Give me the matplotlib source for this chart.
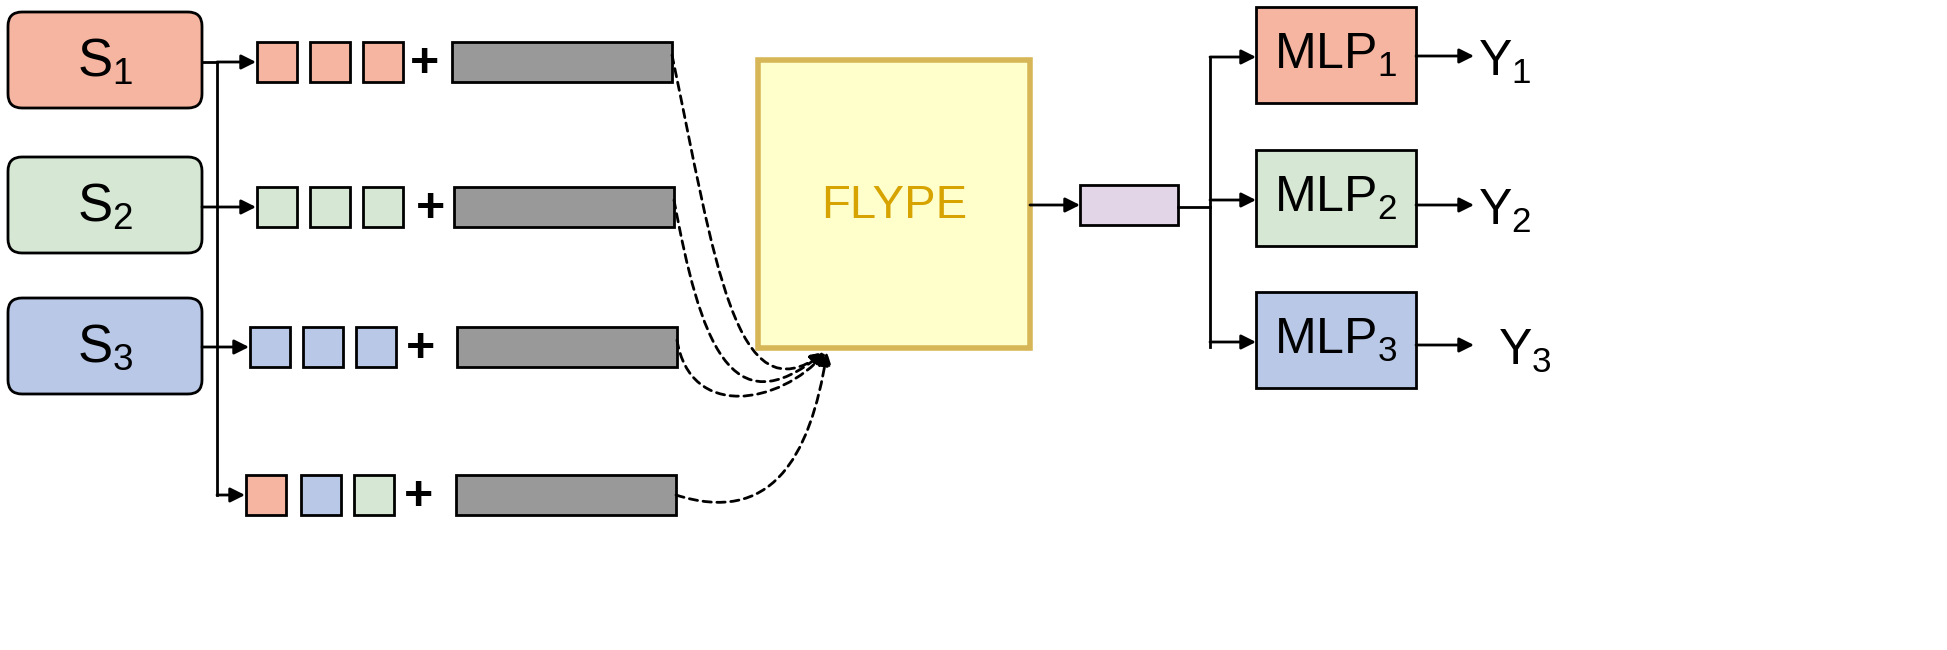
import matplotlib.pyplot as plt
from matplotlib.patches import Rectangle, FancyBboxPatch, FancyArrowPatch
from matplotlib.path import Path

plt.rcParams['font.family'] = ['Liberation Sans', 'DejaVu Sans']
plt.rcParams['mathtext.fontset'] = 'custom'
plt.rcParams['mathtext.rm'] = 'Liberation Sans'
plt.rcParams['mathtext.it'] = 'Liberation Sans'

salmon, green, blue = '#F5B5A0', '#D6E8D4', '#B8C8E6'
gray, purple = '#999999', '#E1D5E7'

source_labels = ['S$_1$', 'S$_2$', 'S$_3$']
source_colors = [salmon, green, blue]
source_tops = [12, 157, 298]

row_ys = [62, 207, 347, 495]
row_square_x = [[257, 310, 363], [257, 310, 363], [250, 303, 356], [246, 301, 354]]
row_square_colors = [[salmon] * 3, [green] * 3, [blue] * 3, [salmon, blue, green]]
row_plus_x = [425, 430, 420, 418]
row_bar_x = [452, 454, 457, 456]

head_labels = ['MLP$_1$', 'MLP$_2$', 'MLP$_3$']
head_tops = [7, 150, 292]
out_labels = ['Y$_1$', 'Y$_2$', 'Y$_3$']
out_ys = [56, 205, 345]
out_x = [1478, 1478, 1498]

fig = plt.figure(figsize=(19.47, 6.5), dpi=100)
ax = fig.add_axes([0, 0, 1, 1])
ax.set_xlim(0, 1947)
ax.set_ylim(650, 0)
ax.axis('off')


def arrow(x0, y0, x1, y1, ls='-'):
    ax.add_patch(FancyArrowPatch((x0, y0), (x1, y1), arrowstyle='-|>', mutation_scale=22,
                                 lw=2, color='black', linestyle=ls, shrinkA=0, shrinkB=0))


# source boxes
for lab, col, top in zip(source_labels, source_colors, source_tops):
    ax.add_patch(FancyBboxPatch((8, top), 194, 96, boxstyle='round,pad=0,rounding_size=14',
                                fc=col, ec='black', lw=2))
    ax.text(105, top + 50, lab, fontsize=38, ha='center', va='center')

# connectors from sources
ax.plot([202, 217], [62, 62], color='black', lw=2)
arrow(217, 62, 256, 62)
ax.plot([217, 217], [62, 495], color='black', lw=2)
arrow(217, 495, 245, 495)
arrow(202, 207, 256, 207)
arrow(202, 347, 249, 347)

# token rows
for y, xs, cols, px, bx in zip(row_ys, row_square_x, row_square_colors, row_plus_x, row_bar_x):
    for x, c in zip(xs, cols):
        ax.add_patch(Rectangle((x, y - 20), 40, 40, fc=c, ec='black', lw=2))
    ax.text(px, y + 2, '+', fontsize=36, fontweight='bold', ha='center', va='center')
    ax.add_patch(Rectangle((bx, y - 20), 220, 40, fc=gray, ec='black', lw=2))

# dashed curves into FLYPE
curves = [
    [(672, 55), (715, 260), (735, 420), (825, 352)],
    [(674, 200), (700, 340), (730, 430), (824, 352)],
    [(677, 340), (690, 420), (780, 405), (826, 352)],
    [(676, 495), (770, 525), (810, 460), (827, 352)],
]
for pts in curves:
    path = Path(pts, [Path.MOVETO, Path.CURVE4, Path.CURVE4, Path.CURVE4])
    ax.add_patch(FancyArrowPatch(path=path, arrowstyle='-|>', mutation_scale=20, lw=2,
                                 color='black', linestyle=(0, (3, 2))))

# FLYPE block
ax.add_patch(Rectangle((758, 60), 272, 288, fc='#FFFFCC', ec='#D6B656', lw=4))
ax.text(894, 206, 'FLYPE', fontsize=34, color='#D7A300', ha='center', va='center')

arrow(1030, 205, 1080, 205)
ax.add_patch(Rectangle((1080, 185), 98, 40, fc=purple, ec='black', lw=2))
ax.plot([1178, 1210], [207, 207], color='black', lw=2)
ax.plot([1210, 1210], [57, 347], color='black', lw=2)

# heads
for lab, col, top, yo, ylab, xo in zip(head_labels, source_colors, head_tops, out_ys,
                                       out_labels, out_x):
    arrow(1210, top + 50, 1256, top + 50)
    ax.add_patch(Rectangle((1256, top), 160, 96, fc=col, ec='black', lw=2))
    ax.text(1336, top + 48, lab, fontsize=36, ha='center', va='center')
    arrow(1416, yo, 1474, yo)
    ax.text(xo, yo + 6, ylab, fontsize=36, ha='left', va='center')

fig.savefig('out.png', dpi=100)
